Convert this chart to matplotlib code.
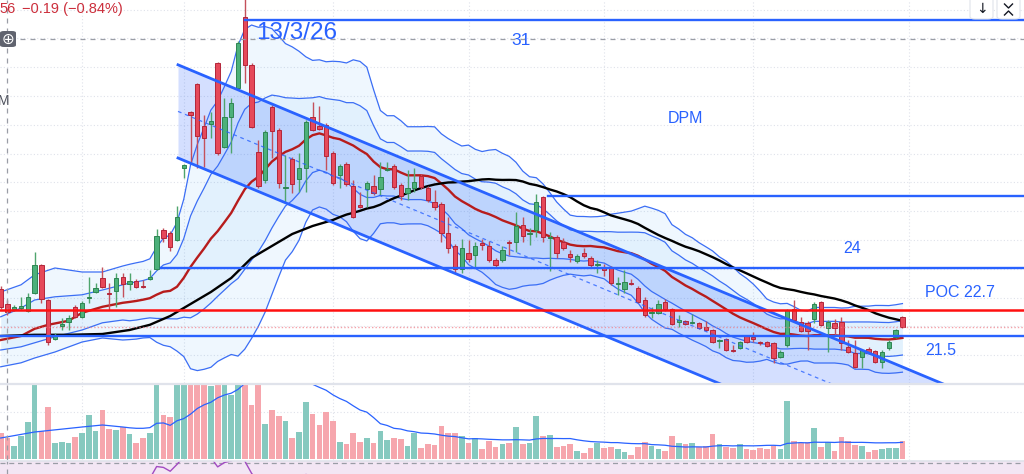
import numpy as np
import pandas as pd
import matplotlib
matplotlib.use("Agg")
import matplotlib.pyplot as plt
from matplotlib.patches import FancyBboxPatch
from matplotlib.lines import Line2D

# ----- price data (daily candles) -----
opens = [24.78, 24.40, 24.28, 24.30, 24.23, 24.68, 25.38, 24.50, 23.53, 23.85,
         23.95, 24.33, 24.08, 24.55, 24.70, 25.05, 24.68, 24.73, 25.08, 24.90,
         24.98, 24.85, 25.03, 25.28, 26.25, 26.18, 26.00, 27.80, 29.20, 29.90,
         28.85, 28.90, 30.43, 28.33, 29.08, 29.80, 31.58, 30.38, 28.20, 27.50,
         29.33, 28.75, 27.30, 28.03, 27.53, 27.80, 29.08, 28.85, 28.88, 28.18,
         27.63, 27.90, 27.35, 26.88, 27.28, 27.35, 27.28, 27.75, 27.85, 27.38,
         27.18, 27.30, 27.60, 27.30, 26.95, 26.90, 26.18, 25.85, 25.28, 25.68,
         25.63, 25.93, 25.85, 25.50, 25.50, 25.95, 25.95, 26.38, 26.15, 26.25,
         27.08, 26.05, 26.08, 25.95, 25.65, 25.48, 25.68, 25.55, 25.38, 25.33,
         25.30, 24.90, 24.78, 24.93, 24.80, 24.50, 24.18, 24.18, 24.45, 24.28,
         23.95, 23.98, 23.93, 23.93, 23.83, 23.75, 23.48, 23.53, 23.25, 23.30,
         23.60, 23.58, 23.45, 23.45, 23.43, 23.08, 23.38, 24.28, 23.95, 23.93,
         24.03, 24.45, 23.80, 23.93, 23.95, 23.33, 23.18, 23.08, 23.28, 23.23,
         22.95, 23.30, 23.58, 24.08]
highs = [24.85, 24.50, 24.38, 24.58, 24.68, 25.70, 25.40, 24.53, 23.68, 24.05,
         24.13, 24.38, 24.48, 25.08, 24.93, 25.33, 24.93, 25.18, 25.18, 25.18,
         25.03, 25.00, 25.25, 26.28, 26.30, 26.23, 26.85, 27.90, 29.23, 29.93,
         29.13, 29.20, 30.45, 29.55, 29.55, 30.98, 32.15, 30.43, 28.50, 28.75,
         29.38, 28.80, 28.13, 28.08, 28.18, 29.00, 29.45, 29.35, 28.93, 28.23,
         27.90, 27.95, 27.50, 27.20, 27.48, 27.63, 27.95, 27.95, 27.90, 27.43,
         27.75, 27.80, 27.65, 27.35, 27.25, 26.95, 26.58, 25.90, 26.03, 26.00,
         25.95, 26.03, 25.98, 25.55, 25.85, 26.00, 26.70, 26.58, 26.30, 27.15,
         27.10, 26.20, 26.13, 26.05, 25.75, 25.65, 25.80, 25.60, 25.50, 25.40,
         25.35, 25.08, 25.25, 25.03, 24.85, 24.58, 24.33, 24.50, 24.53, 24.30,
         24.13, 24.00, 24.15, 23.95, 23.98, 23.78, 23.53, 23.55, 23.38, 23.48,
         23.63, 23.70, 23.48, 23.48, 23.45, 23.25, 24.28, 24.50, 24.08, 23.98,
         24.45, 24.48, 24.00, 24.03, 24.08, 23.50, 23.50, 23.28, 23.33, 23.25,
         23.25, 23.50, 23.78, 24.10]
lows = [24.28, 24.13, 24.23, 24.25, 24.20, 24.65, 24.43, 23.38, 23.50, 23.75,
        23.75, 24.05, 24.05, 24.43, 24.68, 24.80, 24.25, 24.33, 24.58, 24.75,
        24.80, 24.80, 25.00, 25.25, 25.95, 25.73, 25.98, 27.55, 27.93, 27.80,
        27.83, 28.55, 28.13, 28.30, 28.18, 29.75, 29.93, 28.80, 27.30, 27.43,
        28.05, 27.30, 26.93, 27.18, 27.20, 27.20, 28.73, 28.75, 27.75, 27.38,
        27.30, 27.35, 26.55, 26.80, 26.83, 27.13, 27.13, 27.73, 27.28, 27.00,
        27.00, 27.20, 27.28, 26.95, 26.75, 25.95, 25.68, 25.18, 25.18, 25.45,
        25.33, 25.75, 25.45, 25.33, 25.45, 25.63, 25.70, 25.95, 25.88, 26.08,
        25.95, 25.23, 25.55, 25.75, 25.45, 25.43, 25.55, 25.33, 25.18, 25.10,
        24.88, 24.63, 24.68, 24.88, 24.43, 24.08, 24.05, 24.15, 24.23, 23.88,
        23.83, 23.88, 23.90, 23.78, 23.73, 23.43, 23.30, 23.23, 23.20, 23.28,
        23.43, 23.45, 23.38, 23.33, 22.93, 23.05, 23.33, 23.98, 23.70, 23.25,
        23.93, 23.85, 23.20, 23.63, 23.25, 23.18, 22.80, 22.80, 23.15, 22.93,
        22.80, 23.25, 23.55, 23.80]
closes = [24.33, 24.20, 24.33, 24.35, 24.58, 25.38, 24.53, 23.45, 23.63, 23.90,
          24.05, 24.08, 24.43, 24.58, 24.80, 24.83, 24.65, 25.05, 24.90, 24.98,
          24.83, 24.83, 25.08, 26.10, 26.05, 25.83, 26.58, 27.88, 29.13, 28.60,
          28.55, 28.98, 28.18, 29.08, 29.43, 30.93, 30.38, 28.83, 27.35, 28.70,
          28.73, 27.43, 27.33, 27.40, 27.80, 28.95, 28.75, 28.78, 28.10, 27.43,
          27.85, 27.40, 26.58, 26.83, 27.43, 27.18, 27.58, 27.78, 27.33, 27.10,
          27.30, 27.45, 27.33, 27.00, 26.83, 26.18, 25.80, 25.28, 25.80, 25.53,
          25.85, 25.88, 25.50, 25.38, 25.75, 25.93, 26.35, 26.10, 26.18, 26.95,
          26.08, 26.08, 25.68, 25.80, 25.58, 25.60, 25.60, 25.38, 25.40, 25.25,
          24.93, 24.93, 24.95, 24.90, 24.45, 24.13, 24.20, 24.40, 24.28, 23.90,
          24.00, 23.90, 23.95, 23.80, 23.75, 23.45, 23.50, 23.25, 23.23, 23.45,
          23.45, 23.53, 23.43, 23.35, 23.05, 23.20, 24.25, 24.00, 23.73, 23.73,
          24.40, 23.88, 23.95, 23.80, 23.43, 23.20, 22.83, 23.25, 23.18, 22.95,
          23.20, 23.45, 23.75, 23.83]
# volume in thousands of shares (bars taller than the pane are clipped in the original)
volumes = [520, 420, 260, 460, 740, 1800, 560, 1040, 320, 340,
           320, 440, 520, 880, 560, 980, 600, 580, 640, 500,
           320, 420, 520, 2200, 880, 840, 2400, 1900, 2100, 2600,
           1800, 1460, 2300, 2000, 1280, 2500, 3000, 1080, 1560, 700,
           980, 860, 760, 420, 540, 1140, 900, 680, 940, 760,
           340, 300, 520, 340, 420, 320, 560, 380, 420, 400,
           260, 520, 220, 300, 280, 660, 520, 520, 460, 320,
           420, 200, 360, 240, 300, 320, 640, 300, 320, 860,
           460, 480, 240, 260, 300, 160, 120, 220, 320, 220,
           240, 200, 140, 80, 240, 340, 260, 200, 160, 460,
           320, 300, 320, 240, 260, 500, 300, 240, 220, 300,
           200, 180, 220, 200, 260, 200, 1160, 360, 320, 340,
           620, 240, 340, 160, 440, 360, 280, 260, 140, 180,
           200, 220, 220, 360]

# indicator values before enough history exists
warm_bb_idx = [0, 3, 5, 8, 12, 15, 18]
warm_bb_up2 = [24.70, 24.88, 25.13, 25.30, 25.20, 25.20, 25.35]
warm_bb_up1 = [24.08, 24.30, 24.50, 24.58, 24.63, 24.75, 24.88]
warm_bb_lo1 = [23.25, 23.33, 23.43, 23.58, 23.75, 23.93, 24.00]
warm_bb_lo2 = [22.83, 22.93, 23.05, 23.20, 23.45, 23.55, 23.50]
warm_ma20_idx = [0, 3, 5, 7, 10, 12, 15, 18]
warm_ma20 = [23.50, 23.60, 23.78, 23.88, 23.98, 24.18, 24.33, 24.43]
warm_ma50_idx = [0, 5, 10, 15, 19, 22, 25, 28, 31, 34, 37, 40, 43, 46, 48]
warm_ma50 = [23.60, 23.63, 23.63, 23.65, 23.75, 23.88, 24.10, 24.40, 24.70,
             25.05, 25.55, 25.85, 26.15, 26.35, 26.45]
warm_vma_idx = [0, 5, 12, 15, 18]
warm_vma = [420, 540, 640, 680, 640]

# drawings: regression channel and horizontal levels
chan_x = [26.15, 139.3]
chan_upper = [30.38, 22.38]
chan_lower = [28.05, 20.06]
level_prices = [31.50, 27.10, 25.30, 23.60]
level_starts = [36.0, 80.7, 23.6, None]
poc_price = 24.25
crosshair_idx = 0.9
crosshair_price = 31.03

n = len(closes)
idx = np.arange(n)
o = np.array(opens); h = np.array(highs); l = np.array(lows); c = np.array(closes)
cl = pd.Series(c)
m20 = cl.rolling(20).mean()
sd20 = cl.rolling(20).std(ddof=0)
m50 = cl.rolling(50).mean()
vma = pd.Series(volumes, dtype=float).rolling(20).mean()
delta = cl.diff()
gain = delta.clip(lower=0).ewm(alpha=1 / 14, adjust=False, min_periods=14).mean()
loss = (-delta.clip(upper=0)).ewm(alpha=1 / 14, adjust=False, min_periods=14).mean()
rsi = 100 - 100 / (1 + gain / loss)

W, H = 1024, 474
BAR_PX, X0_PX = 6.78, 0.7
xlim = (-X0_PX / BAR_PX, (W - X0_PX) / BAR_PX)

fig = plt.figure(figsize=(W / 100, H / 100), dpi=100)
fig.patch.set_facecolor("white")
ax = fig.add_axes([0, 91 / H, 1, 383 / H])
axv = fig.add_axes([0, 14 / H, 1, 77 / H])
axr = fig.add_axes([0, 0, 1, 13 / H])
for a in (ax, axv, axr):
    a.set_xlim(*xlim)
    a.axis("off")
ax.set_ylim(32 - 383 / 40, 32)
axv.set_ylim(-20, 1520)
axr.set_ylim(58, 72)

BLUE = "#2962ff"
grid_kw = dict(color="#dfe2ea", lw=0.8, ls=(0, (1, 2)), zorder=0)

# grid
for k in range(14):
    ax.axhline(32 - (9.5 + 28.8 * k) / 40, **grid_kw)
for gx in [12, 27, 49, 69, 89, 111, 134]:
    for a in (ax, axv, axr):
        a.axvline(gx, **grid_kw)
axv.axhline(940, **grid_kw)

# bollinger bands (20, 2) and (20, 1)
tail = np.arange(19, n)
bb_x = np.concatenate([warm_bb_idx, tail])
up2 = np.concatenate([warm_bb_up2, (m20 + 2 * sd20).values[19:]])
up1 = np.concatenate([warm_bb_up1, (m20 + sd20).values[19:]])
lo1 = np.concatenate([warm_bb_lo1, (m20 - sd20).values[19:]])
lo2 = np.concatenate([warm_bb_lo2, (m20 - 2 * sd20).values[19:]])
ax.fill_between(bb_x, lo2, up2, color="#2196f3", alpha=0.07, lw=0, zorder=1)
ax.fill_between(bb_x, lo1, up1, color="#2196f3", alpha=0.06, lw=0, zorder=1)
for band in (up2, up1, lo1, lo2):
    ax.plot(bb_x, band, color="#3b6ef5", lw=0.9, zorder=2)

# regression channel
ax.fill_between(chan_x, chan_lower, chan_upper, color=BLUE, alpha=0.2, lw=0, zorder=1.5)
ax.plot(chan_x, chan_upper, color=BLUE, lw=2, zorder=7)
ax.plot(chan_x, chan_lower, color=BLUE, lw=2, zorder=7)
ax.plot(chan_x, [(a + b) / 2 for a, b in zip(chan_upper, chan_lower)],
        color=BLUE, lw=0.9, ls=(0, (3, 3)), alpha=0.8, zorder=7)

# moving averages
ax.plot(np.concatenate([warm_ma20_idx, tail]),
        np.concatenate([warm_ma20, m20.values[19:]]), color="#b71c1c", lw=1.7, zorder=3)
ax.plot(np.concatenate([warm_ma50_idx, np.arange(49, n)]),
        np.concatenate([warm_ma50, m50.values[49:]]), color="black", lw=1.7, zorder=3)

# candles
up = c >= o
ax.vlines(idx, l, h, colors=np.where(up, "#4fa56d", "#c4505b"), lw=1, zorder=4)
body_lo = np.minimum(o, c)
body_h = np.maximum(np.abs(c - o), 0.025)
ax.bar(idx, body_h, bottom=body_lo, width=0.64,
       color=np.where(up, "#4cb07a", "#e6495a"),
       edgecolor=np.where(up, "#2e8552", "#b3263a"), lw=0.7, zorder=5)

# horizontal levels
for price, start in zip(level_prices, level_starts):
    x_from = xlim[0] if start is None else start
    ax.plot([x_from, xlim[1]], [price, price], color=BLUE, lw=1.7, zorder=7)
ax.axhline(poc_price, color="#ff1010", lw=1.8, zorder=7)
ax.axhline(closes[-1], color="#f07a84", lw=1, ls=(0, (1, 1.5)), alpha=0.7, zorder=6)

# crosshair
ax.axhline(crosshair_price, color="#9a9da6", lw=0.9, ls=(0, (4, 4)), zorder=6)
for a in (ax, axv, axr):
    a.axvline(crosshair_idx, color="#9a9da6", lw=0.9, ls=(0, (4, 4)), zorder=6)

# annotations
ax.text(37.7, 31.17, "13/3/26", color=BLUE, fontsize=17.5, family="Liberation Sans",
        va="center", ha="left", zorder=8)
ax.text(75.3, 31.0, "31", color=BLUE, fontsize=12.5, family="Liberation Sans",
        va="center", ha="left", zorder=8)
ax.text(98.4, 29.05, "DPM", color=BLUE, fontsize=11.5, family="Liberation Sans",
        va="center", ha="left", zorder=8)
ax.text(124.2, 25.8, "24", color=BLUE, fontsize=11.5, family="Liberation Sans",
        va="center", ha="left", zorder=8)
ax.text(136.3, 24.68, "POC 22.7", color=BLUE, fontsize=11.5, family="Liberation Sans",
        va="center", ha="left", zorder=8)
ax.text(136.3, 23.25, "21.5", color=BLUE, fontsize=11.5, family="Liberation Sans",
        va="center", ha="left", zorder=8)

# volume pane
axv.bar(idx, volumes, width=0.84, color=np.where(up, "#86c9bf", "#f6a6ad"), lw=0, zorder=2)
axv.plot(np.concatenate([warm_vma_idx, tail]),
         np.concatenate([warm_vma, vma.values[19:]]), color=BLUE, lw=0.9, zorder=3)

# rsi strip
axr.axhspan(58, 72, color="#f3e6f4", zorder=0)
axr.axhline(70, color="#9a9da6", lw=0.9, ls=(0, (4, 3)), zorder=2)
axr.plot(idx, rsi, color="#a24cc2", lw=1, zorder=3)


def fx(px):
    return px / W


def fy(py):
    return 1 - py / H


# pane separators
fig.add_artist(Line2D([0, 1], [fy(383.5), fy(383.5)], color="#e0e3eb", lw=1.6))
fig.add_artist(Line2D([0, 1], [fy(460.5), fy(460.5)], color="#e0e3eb", lw=1.2))

# legend values and chrome
fig.text(fx(-1), fy(9), "56", color="#cc2f3c", fontsize=10.5, family="Liberation Sans",
         va="center", ha="left")
fig.text(fx(22), fy(9), "\u22120.19 (\u22120.84%)", color="#cc2f3c", fontsize=10.5,
         family="Liberation Sans", va="center", ha="left")
fig.text(fx(-2), fy(101), "M", color="#50535e", fontsize=10, family="Liberation Sans",
         va="center", ha="left")
fig.add_artist(FancyBboxPatch((fx(0), fy(47)), fx(16), 16 / H,
                              boxstyle="round,pad=0,rounding_size=0.004",
                              fc="#60636e", ec="none", transform=fig.transFigure))
fig.text(fx(8), fy(39.5), "\u2295", color="white", fontsize=11, va="center", ha="center")

for bx in (970, 997):
    fig.add_artist(FancyBboxPatch((fx(bx), fy(19)), fx(23), 25 / H,
                                  boxstyle="round,pad=0,rounding_size=0.005",
                                  fc="white", ec="#e0e3eb", lw=0.8,
                                  transform=fig.transFigure))
fig.text(fx(981.5), fy(9), "\u2193", color="#131722", fontsize=10, va="center", ha="center")
for y0, y1 in ((4, 8), (15, 11)):
    fig.add_artist(Line2D([fx(1004.5), fx(1008.5), fx(1012.5)],
                          [fy(y0), fy(y1), fy(y0)], color="#131722", lw=1))

fig.savefig("out.png", dpi=100, facecolor="white")
